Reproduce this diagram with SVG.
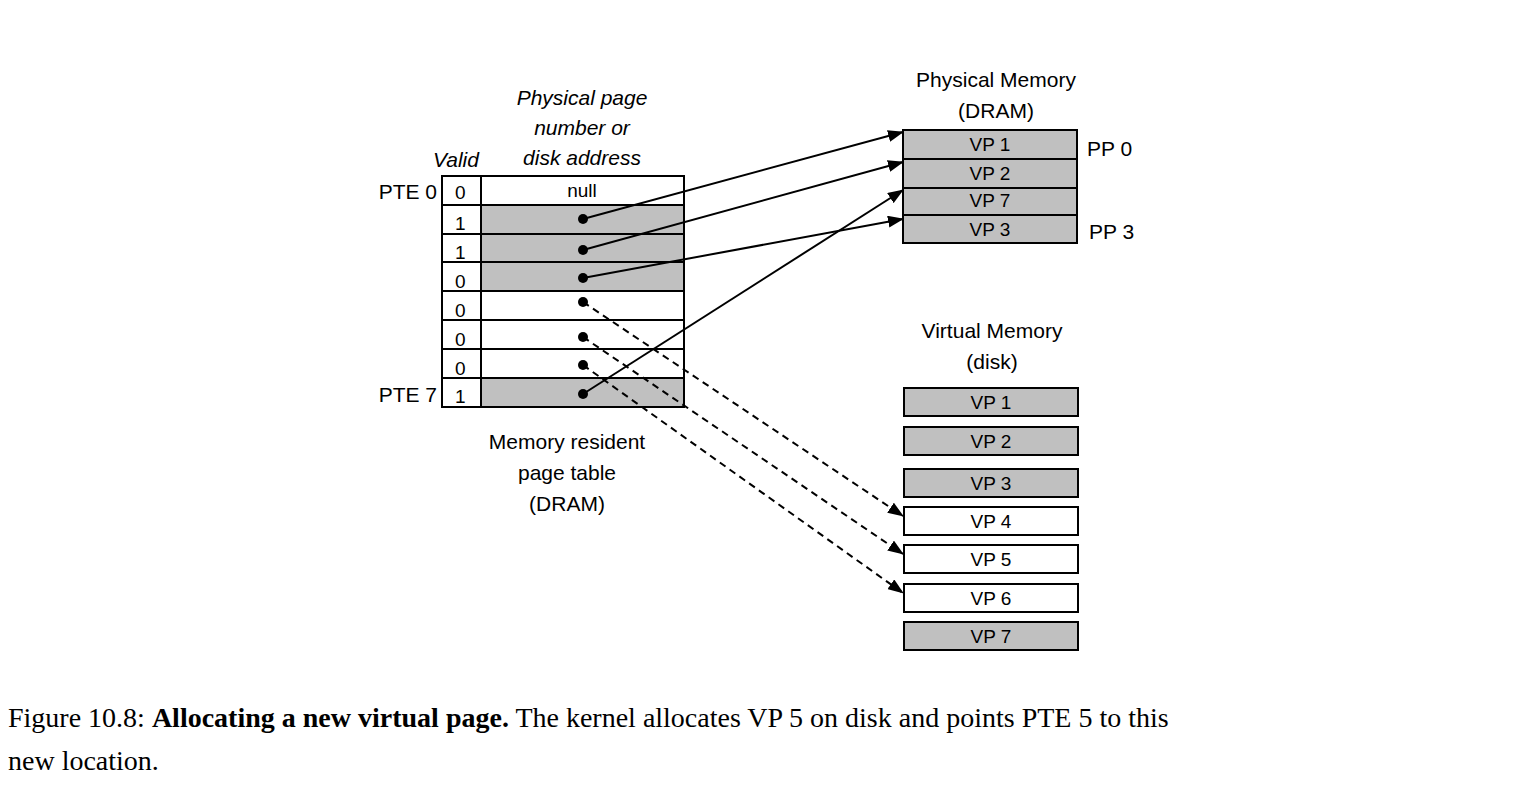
<svg xmlns="http://www.w3.org/2000/svg" width="1514" height="791" viewBox="0 0 1514 791">
<style>
.t{font-family:"Liberation Sans",Arial,sans-serif;font-size:21px;fill:#000}
.s{font-family:"Liberation Sans",Arial,sans-serif;font-size:19px;fill:#000}
.i{font-style:italic}
.g{fill:#c0c0c0;stroke:#000;stroke-width:2}
.w{fill:#fff;stroke:#000;stroke-width:2}
.c{font-family:"Liberation Serif","Times New Roman",serif;font-size:28px;fill:#000}
.l{stroke:#000;stroke-width:2;fill:none;marker-end:url(#a)}
.d{stroke-dasharray:7,5}
</style>
<defs><marker id="a" markerWidth="16" markerHeight="12" refX="15" refY="6" orient="auto" markerUnits="userSpaceOnUse"><path d="M0,0L16,6L0,12z" fill="#000"/></marker></defs>
<rect width="1514" height="791" fill="#fff"/>
<g id="pagetable">
<text class="t i" x="582" y="105" text-anchor="middle">Physical page</text>
<text class="t i" x="582" y="135" text-anchor="middle">number or</text>
<text class="t i" x="582" y="165" text-anchor="middle">disk address</text>
<text class="t i" x="456" y="167" text-anchor="middle">Valid</text>
<text class="t" x="437" y="199" text-anchor="end">PTE 0</text>
<text class="t" x="437" y="402" text-anchor="end">PTE 7</text>
<rect class="w" x="442" y="176" width="39" height="29"/><rect class="w" x="481" y="176" width="203" height="29"/>
<rect class="w" x="442" y="205" width="39" height="29"/><rect class="g" x="481" y="205" width="203" height="29"/>
<rect class="w" x="442" y="234" width="39" height="28"/><rect class="g" x="481" y="234" width="203" height="28"/>
<rect class="w" x="442" y="262" width="39" height="29"/><rect class="g" x="481" y="262" width="203" height="29"/>
<rect class="w" x="442" y="291" width="39" height="29"/><rect class="w" x="481" y="291" width="203" height="29"/>
<rect class="w" x="442" y="320" width="39" height="29"/><rect class="w" x="481" y="320" width="203" height="29"/>
<rect class="w" x="442" y="349" width="39" height="29"/><rect class="w" x="481" y="349" width="203" height="29"/>
<rect class="w" x="442" y="378" width="39" height="29"/><rect class="g" x="481" y="378" width="203" height="29"/>
<text class="s" x="582" y="197" text-anchor="middle">null</text>
<g class="s"><text x="455" y="199">0</text><text x="455" y="230">1</text><text x="455" y="259">1</text><text x="455" y="288">0</text><text x="455" y="317">0</text><text x="455" y="346">0</text><text x="455" y="375">0</text><text x="455" y="403">1</text></g>
<text class="t" x="567" y="449" text-anchor="middle">Memory resident</text>
<text class="t" x="567" y="480" text-anchor="middle">page table</text>
<text class="t" x="567" y="511" text-anchor="middle">(DRAM)</text>
</g>
<g id="physmem">
<text class="t" x="996" y="87" text-anchor="middle">Physical Memory</text>
<text class="t" x="996" y="118" text-anchor="middle">(DRAM)</text>
<rect class="g" x="903" y="130" width="174" height="29"/><rect class="g" x="903" y="159" width="174" height="29"/>
<rect class="g" x="903" y="188" width="174" height="27"/><rect class="g" x="903" y="215" width="174" height="28"/>
<text class="s" x="990" y="151" text-anchor="middle">VP 1</text><text class="s" x="990" y="180" text-anchor="middle">VP 2</text>
<text class="s" x="990" y="207" text-anchor="middle">VP 7</text><text class="s" x="990" y="236" text-anchor="middle">VP 3</text>
<text class="t" x="1087" y="156">PP 0</text><text class="t" x="1089" y="239">PP 3</text>
</g>
<g id="virtmem">
<text class="t" x="992" y="338" text-anchor="middle">Virtual Memory</text>
<text class="t" x="992" y="369" text-anchor="middle">(disk)</text>
<rect class="g" x="904" y="388" width="174" height="28"/><text class="s" x="991" y="409" text-anchor="middle">VP 1</text>
<rect class="g" x="904" y="427" width="174" height="28"/><text class="s" x="991" y="448" text-anchor="middle">VP 2</text>
<rect class="g" x="904" y="469" width="174" height="28"/><text class="s" x="991" y="490" text-anchor="middle">VP 3</text>
<rect class="w" x="904" y="507" width="174" height="28"/><text class="s" x="991" y="528" text-anchor="middle">VP 4</text>
<rect class="w" x="904" y="545" width="174" height="28"/><text class="s" x="991" y="566" text-anchor="middle">VP 5</text>
<rect class="w" x="904" y="584" width="174" height="28"/><text class="s" x="991" y="605" text-anchor="middle">VP 6</text>
<rect class="g" x="904" y="622" width="174" height="28"/><text class="s" x="991" y="643" text-anchor="middle">VP 7</text>
</g>
<g id="connectors">
<line class="l" x1="583" y1="219" x2="903" y2="132"/>
<line class="l" x1="583" y1="250" x2="903" y2="162"/>
<line class="l" x1="583" y1="278" x2="903" y2="219"/>
<line class="l" x1="583" y1="394" x2="903" y2="190"/>
<line class="l d" x1="583" y1="302" x2="903" y2="516"/>
<line class="l d" x1="583" y1="337" x2="903" y2="554"/>
<line class="l d" x1="583" y1="365" x2="903" y2="593"/>
<g fill="#000"><circle cx="583" cy="219" r="5"/><circle cx="583" cy="250" r="5"/><circle cx="583" cy="278" r="5"/><circle cx="583" cy="394" r="5"/><circle cx="583" cy="302" r="5"/><circle cx="583" cy="337" r="5"/><circle cx="583" cy="365" r="5"/></g>
</g>
<text class="c" x="8" y="727">Figure 10.8: <tspan font-weight="bold">Allocating a new virtual page.</tspan> The kernel allocates VP 5 on disk and points PTE 5 to this</text>
<text class="c" x="8" y="770">new location.</text>
</svg>
